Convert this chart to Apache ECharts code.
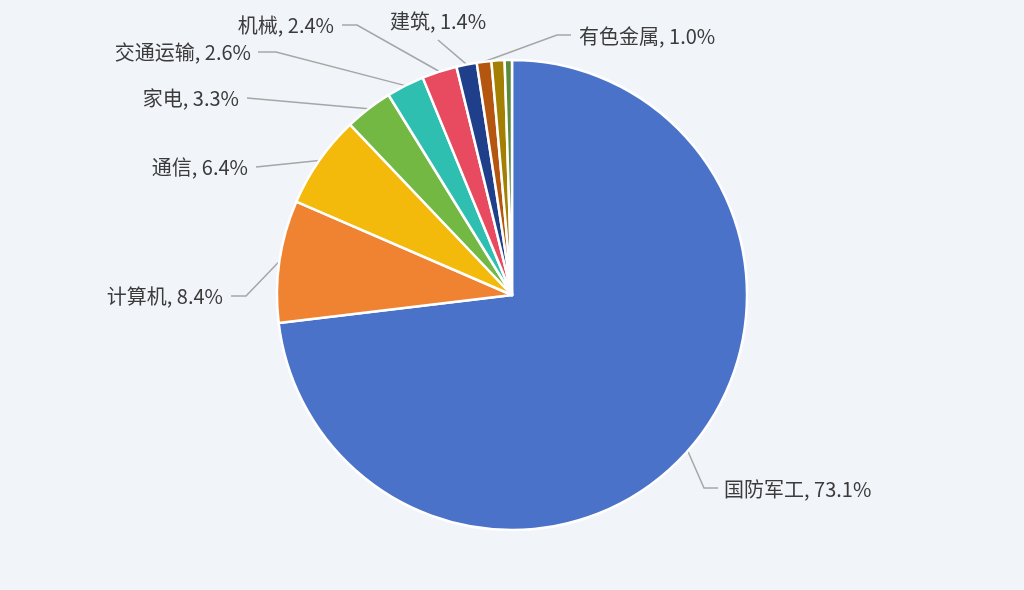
<!DOCTYPE html>
<html>
<head>
<meta charset="utf-8">
<script src="https://cdn.jsdelivr.net/npm/echarts@6/dist/echarts.min.js"></script>
<style>
html,body{margin:0;padding:0;background:#f1f4f9;}
#c{width:1024px;height:590px;}
</style>
</head>
<body>
<div id="c"></div>
<script>
const categories = ['国防军工','计算机','通信','家电','交通运输','机械','建筑','有色金属','电子','其他'];
const values = [73.1, 8.4, 6.4, 3.3, 2.6, 2.4, 1.4, 1.0, 0.9, 0.5];
const colors = ['#4a72c9','#ef8331','#f4ba0b','#72b843','#2fbfb1','#e84a60','#1f3f8b','#b4560f','#a38003','#5b8a3a'];
const hiddenLabels = ['电子','其他'];

// label placement (text anchor + guide-line bend points), by category
const labelPlacement = {
  '国防军工': { x: 724, y: 489, align: 'left',   bend: [[704, 488], [718, 488]] },
  '计算机':   { x: 223, y: 296, align: 'right',  bend: [[246, 296], [231, 296]] },
  '通信':     { x: 248, y: 167, align: 'right',  bend: [[256, 167]] },
  '家电':     { x: 239, y: 98,  align: 'right',  bend: [[247, 98]] },
  '交通运输': { x: 251, y: 52,  align: 'right',  bend: [[276, 52], [258, 52]] },
  '机械':     { x: 334, y: 25,  align: 'right',  bend: [[357, 25], [342, 25]] },
  '建筑':     { x: 438, y: 21,  align: 'center', bend: [[438, 40]] },
  '有色金属': { x: 579, y: 36,  align: 'left',   bend: [[557, 35], [571, 35]] }
};

const chart = echarts.init(document.getElementById('c'));
const R = 235;
chart.setOption({
  backgroundColor: '#f1f4f9',
  series: [{
    type: 'pie',
    center: ['50%','50%'],
    radius: R,
    startAngle: 90,
    clockwise: true,
    avoidLabelOverlap: false,
    itemStyle: { borderColor: '#ffffff', borderWidth: 2.5 },
    label: {
      show: true,
      formatter: p => p.name + ', ' + p.value.toFixed(1) + '%',
      fontSize: 20,
      color: '#3b3b3b',
      fontFamily: '"Noto Sans CJK SC", "Noto Sans", sans-serif'
    },
    labelLine: { show: true, length: 20, length2: 20, lineStyle: { color: '#a6a6a6', width: 1.5 } },
    labelLayout: function (params) {
      const name = categories[params.dataIndex];
      const pl = labelPlacement[name];
      if (!pl) return {};
      // start point on slice edge at the mid angle
      let sum = 0; values.forEach(v => sum += v);
      let before = 0; for (let i = 0; i < params.dataIndex; i++) before += values[i];
      const frac = (before + values[params.dataIndex] / 2) / sum;
      const ang = frac * Math.PI * 2;
      const cx = chart.getWidth() / 2, cy = chart.getHeight() / 2;
      const start = [cx + R * Math.sin(ang), cy - R * Math.cos(ang)];
      return {
        x: pl.x, y: pl.y, align: pl.align, verticalAlign: 'middle',
        labelLinePoints: [start].concat(pl.bend)
      };
    },
    data: categories.map((n, i) => ({
      name: n,
      value: values[i],
      itemStyle: { color: colors[i] },
      label: { show: hiddenLabels.indexOf(n) < 0 },
      labelLine: { show: hiddenLabels.indexOf(n) < 0 }
    }))
  }]
});
</script>
</body>
</html>
